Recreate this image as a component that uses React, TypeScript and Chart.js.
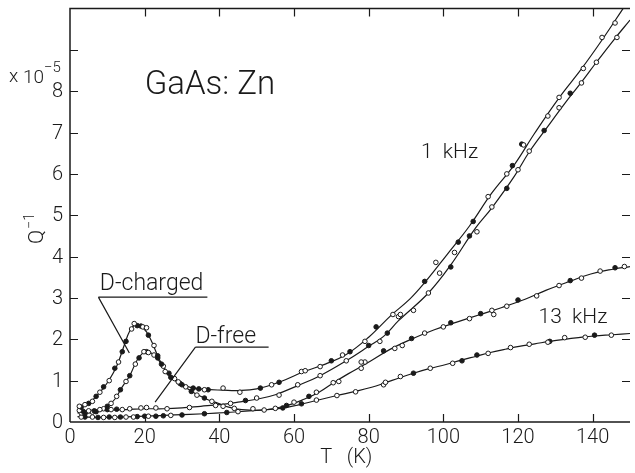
import { useEffect, useRef } from "react";
import { Chart, registerables } from "chart.js";

Chart.register(...registerables);

const FONT = "Roboto, 'DejaVu Sans', sans-serif";

// Axis ticks
const T_TICKS = [0, 20, 40, 60, 80, 100, 120, 140];
const Q_TICKS = [0, 1, 2, 3, 4, 5, 6, 7, 8, 9];
const Q_TICK_LABELS = ["0", "1", "2", "3", "4", "5", "6", "7", "8", ""];

// Fitted curves (T in K, Q^-1 in units of 1e-5)
// D-charged, 1 kHz
const chg1kT = [2, 5, 8, 10, 12.5, 14.5, 16, 17.5, 19, 20.5, 22, 24, 26.5, 29, 32.5, 36, 41, 45, 50, 56.5, 62.7, 68.4, 74, 80, 86, 91, 95, 101, 107, 113, 119, 124.5, 131, 137, 142.6, 148, 150];
const chg1kQ = [0.35, 0.45, 0.72, 0.95, 1.35, 1.85, 2.2, 2.35, 2.31, 2.18, 1.92, 1.5, 1.14, 0.95, 0.83, 0.79, 0.77, 0.76, 0.8, 0.98, 1.22, 1.4, 1.63, 2.05, 2.58, 2.97, 3.37, 4.05, 4.74, 5.54, 6.22, 6.99, 7.84, 8.54, 9.25, 9.98, 10.25];
// D-free, 1 kHz
const free1kT = [2, 6, 10, 15, 20, 25, 30, 35, 40, 45, 50, 55, 61, 67, 74, 80, 84, 88, 96, 102, 108.6, 113, 119, 123, 128, 132.5, 137, 141, 146, 150];
const free1kQ = [0.28, 0.27, 0.29, 0.3, 0.32, 0.32, 0.34, 0.38, 0.42, 0.48, 0.55, 0.66, 0.88, 1.12, 1.48, 1.83, 2.07, 2.45, 3.12, 3.8, 4.69, 5.18, 5.94, 6.53, 7.15, 7.7, 8.22, 8.7, 9.28, 9.72];
// D-charged, 13 kHz
const chg13kT = [2, 5, 8, 10, 12, 14, 16, 18, 20, 21.5, 23, 25.6, 28.3, 32.7, 36.2, 39.7, 42.5, 46, 52, 57.4, 62.7, 66.7, 70.6, 74.6, 79.5, 85.6, 91.4, 97.6, 103.8, 109.9, 115.7, 121.9, 127.6, 133.8, 139.5, 145.7, 150];
const chg13kQ = [0.22, 0.22, 0.28, 0.38, 0.55, 0.85, 1.12, 1.5, 1.7, 1.68, 1.58, 1.26, 1.02, 0.73, 0.57, 0.45, 0.36, 0.3, 0.29, 0.38, 0.55, 0.72, 0.95, 1.17, 1.42, 1.75, 2.0, 2.23, 2.42, 2.6, 2.77, 2.97, 3.19, 3.4, 3.58, 3.7, 3.76];
// D-free, 13 kHz
const free13kT = [2, 10, 20, 28, 36, 42, 50, 56.5, 61, 66, 71.5, 76.4, 80.8, 84.2, 88.3, 92, 96.2, 100.7, 104.6, 108.8, 112.6, 116.6, 120.3, 124.5, 128.5, 132.5, 136.2, 140.4, 145.4, 150];
const free13kQ = [0.13, 0.11, 0.14, 0.17, 0.2, 0.23, 0.28, 0.33, 0.41, 0.52, 0.64, 0.74, 0.84, 0.94, 1.07, 1.18, 1.29, 1.39, 1.49, 1.59, 1.68, 1.76, 1.83, 1.89, 1.95, 2.0, 2.04, 2.08, 2.11, 2.14];

// Measured points: [T, Q]
const chg1kOpen = [[2.5, 0.38], [4, 0.42], [6, 0.5], [8, 0.72], [10.5, 1.0], [13, 1.45], [16.5, 2.25], [17.2, 2.38], [19.5, 2.3], [20.5, 2.28], [22.5, 1.85], [25.5, 1.22], [29, 0.97], [36, 0.78], [41, 0.82], [45.5, 0.72], [54, 0.9], [62, 1.22], [63, 1.24], [67, 1.34], [73, 1.62], [79, 1.95], [86.5, 2.6], [88.5, 2.6], [98, 3.86], [112, 5.45], [117, 6.0], [121.5, 6.7], [128, 7.4], [131, 7.85], [137.5, 8.55], [142.5, 9.3], [146, 9.65]];
const chg1kFilled = [[3, 0.36], [5, 0.45], [7, 0.62], [9, 0.85], [12, 1.3], [14, 1.7], [15, 1.95], [18, 2.33], [19, 2.32], [21, 2.1], [23.5, 1.6], [24.5, 1.4], [27, 1.08], [30, 0.9], [33, 0.82], [34.5, 0.8], [37, 0.78], [51, 0.82], [56, 0.96], [70, 1.48], [75, 1.7], [82, 2.3], [95, 3.4], [104, 4.35], [108, 4.85], [118.5, 6.2], [121, 6.72]];
const chg13kOpen = [[3, 0.22], [6, 0.24], [9, 0.32], [11, 0.45], [12.5, 0.62], [15, 0.98], [17.5, 1.4], [19.8, 1.7], [21, 1.68], [22.5, 1.62], [25, 1.35], [28, 1.05], [31, 0.85], [34, 0.65], [38, 0.5], [41, 0.38], [44, 0.33], [49, 0.32], [55, 0.33], [60, 0.48], [66, 0.72], [70.5, 0.95], [72, 0.98], [78, 1.3], [79, 1.45], [87, 1.78], [89, 1.85], [95, 2.15], [100, 2.3], [107, 2.5], [113, 2.7], [113.5, 2.6], [117, 2.8], [125, 3.05], [131, 3.3], [137, 3.48], [142, 3.65], [148.5, 3.76]];
const chg13kFilled = [[4, 0.2], [7, 0.25], [10, 0.38], [13.5, 0.78], [16, 1.12], [18.5, 1.55], [20.5, 1.7], [23.5, 1.55], [26.5, 1.18], [29.5, 0.93], [32.5, 0.74], [36, 0.58], [58, 0.4], [64, 0.62], [84, 1.72], [91.5, 2.02], [102, 2.4], [110, 2.62], [120, 2.95], [134, 3.42], [146, 3.73]];
const free1kOpen = [[2.5, 0.28], [5, 0.27], [8, 0.3], [11, 0.3], [14, 0.3], [16, 0.32], [19, 0.34], [20.5, 0.35], [23, 0.34], [26, 0.32], [32, 0.35], [39, 0.4], [43, 0.45], [50, 0.58], [56, 0.65], [61, 0.9], [67, 1.12], [74, 1.48], [78, 1.45], [83, 1.95], [88, 2.55], [92, 2.7], [96, 3.12], [99, 3.6], [103, 4.1], [109, 4.6], [113, 5.2], [120, 6.1], [123, 6.55], [131, 7.6], [137, 8.2], [141, 8.7], [146.5, 9.3]];
const free1kFilled = [[3.5, 0.26], [6.5, 0.27], [10, 0.3], [12.5, 0.31], [47, 0.52], [80, 1.85], [85, 2.15], [102, 3.75], [107, 4.5], [117, 5.65], [127, 7.05], [134, 7.95]];
const free13kOpen = [[3, 0.12], [6, 0.12], [9, 0.11], [12, 0.11], [15, 0.12], [17, 0.12], [21, 0.14], [27, 0.16], [45, 0.25], [52, 0.29], [66, 0.53], [71.5, 0.64], [76.5, 0.73], [84, 0.9], [84.5, 0.96], [88.5, 1.1], [96.5, 1.3], [102.5, 1.42], [112, 1.66], [118, 1.8], [123, 1.88], [128, 1.93], [132.5, 2.04], [138, 2.05], [145, 2.1]];
const free13kFilled = [[4, 0.12], [7.5, 0.11], [10.5, 0.12], [13.5, 0.12], [18, 0.13], [20, 0.14], [23, 0.14], [25, 0.15], [30, 0.17], [36, 0.2], [42, 0.23], [57, 0.34], [62, 0.44], [92, 1.18], [105, 1.48], [109, 1.62], [128.5, 1.95], [140.5, 2.1]];

const INK = "#1a1a1a";

const zip = (xs: number[], ys: number[]) => xs.map((x, i) => ({ x, y: ys[i] }));
const pts = (arr: number[][]) => arr.map(([x, y]) => ({ x, y }));

function lineDs(xs: number[], ys: number[]) {
  return {
    data: zip(xs, ys),
    showLine: true,
    borderColor: INK,
    borderWidth: 1.2,
    pointRadius: 0,
    tension: 0.4,
    order: 2,
  };
}
function pointDs(arr: number[][], filled: boolean) {
  return {
    data: pts(arr),
    showLine: false,
    pointRadius: 2.3,
    pointBorderWidth: 1,
    pointBorderColor: INK,
    pointBackgroundColor: filled ? INK : "#ffffff",
    order: 1,
  };
}

const decorPlugin = {
  id: "decor",
  afterDraw(chart: any) {
    const ctx = chart.ctx;
    const a = chart.chartArea;
    const xs = chart.scales.x;
    const ys = chart.scales.y;
    const px = (v: number) => xs.getPixelForValue(v);
    const py = (v: number) => ys.getPixelForValue(v);
    ctx.save();
    ctx.strokeStyle = INK;
    ctx.fillStyle = INK;
    ctx.lineWidth = 1.5;
    ctx.beginPath();
    ctx.moveTo(a.left, a.bottom);
    ctx.lineTo(a.left, a.top);
    ctx.lineTo(a.right, a.top);
    ctx.moveTo(a.left, a.bottom);
    ctx.lineTo(a.right, a.bottom);
    ctx.stroke();
    ctx.lineWidth = 1.2;
    ctx.beginPath();
    const L = 8;
    T_TICKS.forEach((v) => {
      if (v === 0) return;
      const x = Math.round(px(v)) + 0.5;
      ctx.moveTo(x, a.bottom);
      ctx.lineTo(x, a.bottom - L);
      ctx.moveTo(x, a.top);
      ctx.lineTo(x, a.top + L);
    });
    Q_TICKS.forEach((v) => {
      if (v === 0) return;
      const y = Math.round(py(v)) + 0.5;
      ctx.moveTo(a.left, y);
      ctx.lineTo(a.left + L, y);
      ctx.moveTo(a.right, y);
      ctx.lineTo(a.right - L, y);
    });
    ctx.stroke();

    // tick labels
    ctx.font = `300 20px ${FONT}`;
    ctx.textAlign = "center";
    ctx.textBaseline = "top";
    T_TICKS.forEach((v) => {
      ctx.fillText(String(v), px(v), a.bottom + 6);
    });
    ctx.textAlign = "right";
    ctx.textBaseline = "middle";
    Q_TICKS.forEach((v, i) => {
      const s = Q_TICK_LABELS[i];
      if (s) ctx.fillText(s, a.left - 7, py(v) + 1);
    });
    // x title
    ctx.textAlign = "center";
    ctx.textBaseline = "top";
    ctx.fillText("T\u00a0\u00a0\u00a0(K)", px(74), a.bottom + 26);

    // annotations
    ctx.textBaseline = "middle";
    ctx.textAlign = "left";
    ctx.font = `300 33px ${FONT}`;
    ctx.fillText("GaAs: Zn", px(20), py(8.12));
    ctx.font = `300 21px ${FONT}`;
    ctx.fillText("1  kHz", px(94), py(6.5));
    ctx.fillText("13  kHz", px(125.5), py(2.51));
    ctx.font = `300 23px ${FONT}`;
    ctx.fillText("D-charged", px(8), py(3.32));
    ctx.fillText("D-free", px(33.6), py(2.04));
    ctx.lineWidth = 1.2;
    ctx.beginPath();
    ctx.moveTo(px(7.6), py(3.02));
    ctx.lineTo(px(36.8), py(3.02));
    ctx.moveTo(px(7.6), py(3.02));
    ctx.lineTo(px(15.9), py(1.67));
    ctx.moveTo(px(33.6), py(1.81));
    ctx.lineTo(px(53.2), py(1.81));
    ctx.moveTo(px(33.6), py(1.81));
    ctx.lineTo(px(22.8), py(0.48));
    ctx.stroke();

    // multiplier
    ctx.textBaseline = "alphabetic";
    ctx.font = `300 19px ${FONT}`;
    ctx.fillText("x", 9, 82);
    ctx.fillText("10", 23, 83);
    ctx.font = `300 15px ${FONT}`;
    ctx.fillText("\u22125", 44, 72);

    // y title Q^-1
    ctx.translate(43, 244);
    ctx.rotate(-Math.PI / 2);
    ctx.font = `300 21px ${FONT}`;
    ctx.fillText("Q", 0, 0);
    const w = ctx.measureText("Q").width;
    ctx.font = `300 14px ${FONT}`;
    ctx.fillText("\u22121", w + 1, -9);
    ctx.restore();
  },
};

export default function App() {
  const ref = useRef<HTMLCanvasElement | null>(null);
  useEffect(() => {
    if (!ref.current) return;
    const chart = new Chart(ref.current, {
      type: "scatter",
      data: {
        datasets: [
          lineDs(chg1kT, chg1kQ),
          lineDs(free1kT, free1kQ),
          lineDs(chg13kT, chg13kQ),
          lineDs(free13kT, free13kQ),
          pointDs(chg1kOpen, false),
          pointDs(chg1kFilled, true),
          pointDs(free1kOpen, false),
          pointDs(free1kFilled, true),
          pointDs(chg13kOpen, false),
          pointDs(chg13kFilled, true),
          pointDs(free13kOpen, false),
          pointDs(free13kFilled, true),
        ] as any,
      },
      options: {
        animation: false,
        responsive: false,
        devicePixelRatio: 1,
        layout: { padding: { top: 8.5, right: 0, left: 0, bottom: 0 } },
        plugins: { legend: { display: false }, tooltip: { enabled: false } },
        scales: {
          x: {
            type: "linear",
            min: 0,
            max: 150,
            grid: { display: false },
            border: { display: false },
            ticks: { display: false },
            afterFit: (s: any) => {
              s.height = 51;
            },
          },
          y: {
            type: "linear",
            min: 0,
            max: 10,
            grid: { display: false },
            border: { display: false },
            ticks: { display: false },
            afterFit: (s: any) => {
              s.width = 70;
            },
          },
        },
      },
      plugins: [decorPlugin],
    });
    return () => chart.destroy();
  }, []);
  return (
    <div style={{ position: "absolute", left: 0, top: 0, width: 635, height: 473, background: "#fff" }}>
      <canvas ref={ref} width={635} height={473} />
    </div>
  );
}
